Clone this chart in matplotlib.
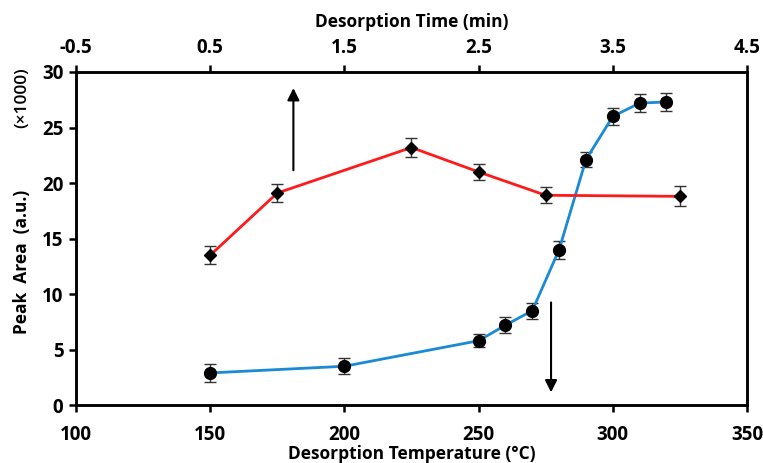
import matplotlib
matplotlib.use("Agg")
import matplotlib.pyplot as plt

plt.rcParams['font.family'] = ['Open Sans', 'DejaVu Sans']
plt.rcParams['font.weight'] = 'bold'

# temperature series (bottom axis)
temp = [150, 200, 250, 260, 270, 280, 290, 300, 310, 320]
area_temp = [2.9, 3.5, 5.8, 7.2, 8.5, 14.0, 22.1, 26.0, 27.2, 27.3]
err_temp = [0.8, 0.7, 0.6, 0.7, 0.7, 0.8, 0.7, 0.8, 0.8, 0.8]

# time series (top axis)
time_min = [0.5, 1.0, 2.0, 2.5, 3.0, 4.0]
area_time = [13.5, 19.1, 23.2, 21.0, 18.9, 18.8]
err_time = [0.8, 0.8, 0.9, 0.7, 0.7, 0.9]

fig = plt.figure(figsize=(7.63, 4.63), dpi=100)
ax = fig.add_axes([0.0996, 0.125, 0.8794, 0.7195])
ax2 = ax.twiny()

ax.errorbar(temp, area_temp, yerr=err_temp, color='#1a8ad4', lw=2,
            marker='o', ms=8.5, mfc='black', mec='black',
            ecolor='#333333', elinewidth=1, capsize=4.5, capthick=1, zorder=3)
ax2.errorbar(time_min, area_time, yerr=err_time, color='#ff1a1a', lw=2,
             marker='D', ms=6.5, mfc='black', mec='black',
             ecolor='#333333', elinewidth=1, capsize=4.5, capthick=1, zorder=3)

ax.set_xlim(100, 350)
ax.set_ylim(0, 30)
ax.set_xticks([100, 150, 200, 250, 300, 350])
ax.set_yticks([0, 5, 10, 15, 20, 25, 30])
ax2.set_xlim(-0.5, 4.5)
ax2.set_xticks([-0.5, 0.5, 1.5, 2.5, 3.5, 4.5])
ax2.set_xticklabels(['-0.5', '0.5', '1.5', '2.5', '3.5', '4.5'])

for a in (ax, ax2):
    for s in a.spines.values():
        s.set_linewidth(1.8)
    a.tick_params(direction='out', length=5, width=1.8, labelsize=13.5, pad=5)
ax.tick_params(axis='y', pad=4)
ax.tick_params(axis='x', pad=9)

ax.set_xlabel('Desorption Temperature (°C)', fontsize=12.5, fontweight='bold', labelpad=0)
ax2.set_xlabel('Desorption Time (min)', fontsize=12.5, fontweight='bold', labelpad=8)
fig.text(0.029, 0.434, 'Peak  Area  (a.u.)', rotation=90, ha='center', va='center',
         fontsize=12.5, fontweight='bold')
fig.text(0.029, 0.79, '(×1000)', rotation=90, ha='center', va='center',
         fontsize=12.5, fontweight='semibold')

# arrows pointing to the relevant axis
ax.annotate('', xy=(181, 28.8), xytext=(181, 20.9),
            arrowprops=dict(arrowstyle='-|>', color='black', lw=1.5, mutation_scale=18))
ax.annotate('', xy=(277, 0.9), xytext=(277, 9.5),
            arrowprops=dict(arrowstyle='-|>', color='black', lw=1.5, mutation_scale=18))

fig.savefig('out.png', dpi=100)
